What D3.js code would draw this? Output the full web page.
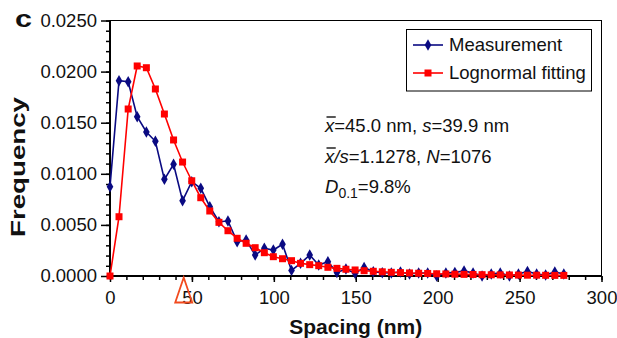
<!DOCTYPE html>
<html>
<head>
<meta charset="utf-8">
<script src="https://cdn.jsdelivr.net/npm/d3@7"></script>
<style>
  html, body { margin: 0; padding: 0; background: #fff; }
  svg { display: block; font-family: "Liberation Sans", Arial, sans-serif; }
</style>
</head>
<body>
<svg id="chart" width="617" height="338"></svg>
<script>
// Spacing bins (nm)
const spacing = [0, 5.5, 11.1, 16.6, 22.2, 27.7, 33.2, 38.8, 44.3, 49.9,
  55.4, 60.9, 66.5, 72.0, 77.6, 83.1, 88.6, 94.2, 99.7, 105.3,
  110.8, 116.3, 121.9, 127.4, 133.0, 138.5, 144.0, 149.6, 155.1, 160.7,
  166.2, 171.7, 177.3, 182.8, 188.4, 193.9, 199.4, 205.0, 210.5, 216.1,
  221.6, 227.1, 232.7, 238.2, 243.8, 249.3, 254.8, 260.4, 265.9, 271.5, 277.0];

// Measured frequency
const measurement = [0.00874, 0.01911, 0.01901, 0.01559, 0.01409, 0.01318, 0.00946, 0.01093, 0.00737, 0.00923,
  0.00858, 0.00678, 0.00531, 0.00538, 0.00336, 0.00352, 0.00205, 0.00271, 0.00254, 0.00310,
  0.00055, 0.00124, 0.00205, 0.00108, 0.00140, 0.00034, 0.00068, 0.00026, 0.00083, 0.00042,
  0.00032, 0.00030, 0.00040, 0.00020, 0.00030, 0.00030, 0.00000, 0.00030, 0.00035, 0.00050,
  0.00030, 0.00000, 0.00020, 0.00030, 0.00000, 0.00020, 0.00045, 0.00020, 0.00010, 0.00040, 0.00020];

// Lognormal fit
const lognormal = [0.00000, 0.00580, 0.01634, 0.02055, 0.02038, 0.01830, 0.01585, 0.01331, 0.01115, 0.00932,
  0.00766, 0.00636, 0.00525, 0.00443, 0.00369, 0.00320, 0.00277, 0.00228, 0.00189, 0.00169,
  0.00150, 0.00124, 0.00111, 0.00101, 0.00085, 0.00075, 0.00066, 0.00059, 0.00052, 0.00046,
  0.00041, 0.00036, 0.00033, 0.00030, 0.00027, 0.00025, 0.00022, 0.00020, 0.00018, 0.00016,
  0.00015, 0.00013, 0.00012, 0.00011, 0.00010, 0.00009, 0.00008, 0.00008, 0.00007, 0.00006, 0.00006];

const xTicks = [0, 50, 100, 150, 200, 250, 300];
const yTicks = [0, 0.005, 0.010, 0.015, 0.020, 0.025];
const xMinorTicks = d3.range(0, 301, 10);
const yMinorTicks = d3.range(0, 26).map(i => i / 1000);

const meanSpacing = 45.0;
const seriesNames = ["Measurement", "Lognormal fitting"];
const blue = "#0a0a82", red = "#ff0000";
const fs = 18.5;

const svg = d3.select("#chart");
const x = d3.scaleLinear().domain([0, 300]).range([110, 601.5]);
const y = d3.scaleLinear().domain([0, 0.025]).range([276, 20.5]);

// Plot frame (top / right)
svg.append("rect")
  .attr("x", x(0)).attr("y", y(0.025))
  .attr("width", x(300) - x(0)).attr("height", y(0) - y(0.025))
  .attr("fill", "none").attr("stroke", "#000").attr("stroke-width", 1);

// Minor ticks
svg.append("g").attr("transform", `translate(${x(0)},0)`)
  .call(d3.axisLeft(y).tickValues(yMinorTicks).tickSize(4).tickFormat(""))
  .call(g => g.select(".domain").remove())
  .call(g => g.selectAll("line").attr("stroke-width", 1.5));
svg.append("g").attr("transform", `translate(0,${y(0)})`)
  .call(d3.axisBottom(x).tickValues(xMinorTicks).tickSize(4).tickFormat(""))
  .call(g => g.select(".domain").remove())
  .call(g => g.selectAll("line").attr("stroke-width", 1.5));

// Major axes
const yAxis = svg.append("g").attr("transform", `translate(${x(0)},0)`)
  .call(d3.axisLeft(y).tickValues(yTicks).tickSize(9).tickPadding(4).tickFormat(d3.format(".4f")));
const xAxis = svg.append("g").attr("transform", `translate(0,${y(0)})`)
  .call(d3.axisBottom(x).tickValues(xTicks).tickSize(6).tickPadding(8.5).tickFormat(d3.format("d")));
[yAxis, xAxis].forEach(g => {
  g.attr("font-family", null).attr("font-size", null);
  g.select(".domain").attr("stroke-width", 2).attr("d", null);
  g.selectAll("line").attr("stroke-width", 1.5);
  g.selectAll("text").attr("font-size", fs).attr("fill", "#111");
});
svg.append("line").attr("x1", x(0)).attr("x2", x(0)).attr("y1", y(0.025)).attr("y2", y(0) + 1)
  .attr("stroke", "#000").attr("stroke-width", 2);
svg.append("line").attr("x1", x(0) - 1).attr("x2", x(300)).attr("y1", y(0)).attr("y2", y(0))
  .attr("stroke", "#000").attr("stroke-width", 2);

// Series
const pts = vals => vals.map((v, i) => [spacing[i], v]);
const line = d3.line().x(d => x(d[0])).y(d => y(d[1]));
const diamond = d3.symbol().type(d3.symbolDiamond).size(38);

svg.append("path").datum(pts(measurement)).attr("d", line)
  .attr("fill", "none").attr("stroke", blue).attr("stroke-width", 1.6);
svg.append("g").selectAll("path").data(pts(measurement)).join("path")
  .attr("d", diamond).attr("transform", d => `translate(${x(d[0])},${y(d[1])})`)
  .attr("fill", blue);

svg.append("path").datum(pts(lognormal)).attr("d", line)
  .attr("fill", "none").attr("stroke", red).attr("stroke-width", 1.6);
svg.append("g").selectAll("rect").data(pts(lognormal)).join("rect")
  .attr("x", d => x(d[0]) - 3.5).attr("y", d => y(d[1]) - 3.5)
  .attr("width", 7).attr("height", 7).attr("fill", red);

// Mean marker below the axis
const mx = x(meanSpacing);
svg.append("path")
  .attr("d", `M${mx},${y(0) + 1.5} L${mx - 8.5},${y(0) + 26.5} L${mx + 8.5},${y(0) + 26.5} Z`)
  .attr("fill", "none").attr("stroke", "#f24a1e").attr("stroke-width", 1.8);

// Legend
const lg = svg.append("g");
lg.append("rect").attr("x", 406.5).attr("y", 29.5).attr("width", 185).attr("height", 61.5)
  .attr("fill", "#fff").attr("stroke", "#000").attr("stroke-width", 1);
seriesNames.forEach((name, i) => {
  const ly = 45 + i * 28;
  const col = i === 0 ? blue : red;
  lg.append("line").attr("x1", 413).attr("x2", 443).attr("y1", ly).attr("y2", ly)
    .attr("stroke", col).attr("stroke-width", 1.6);
  if (i === 0) {
    lg.append("path").attr("d", diamond).attr("transform", `translate(428,${ly})`).attr("fill", col);
  } else {
    lg.append("rect").attr("x", 424.5).attr("y", ly - 3.5).attr("width", 7).attr("height", 7).attr("fill", col);
  }
  lg.append("text").attr("x", 449).attr("y", ly + 6).attr("font-size", fs).attr("fill", "#111").text(name);
});

// Statistics annotation
const ann = svg.append("g").attr("font-size", fs).attr("fill", "#111");
const overline = (t) => {
  const e = t.node().getExtentOfChar(0);
  ann.append("line").attr("x1", e.x + 1.5).attr("x2", e.x + e.width + 1.5)
    .attr("y1", e.y + 2.5).attr("y2", e.y + 2.5).attr("stroke", "#111").attr("stroke-width", 1.4);
};
const t1 = ann.append("text").attr("x", 325).attr("y", 131.5);
t1.append("tspan").attr("font-style", "italic").text("x");
t1.append("tspan").text("=45.0 nm, ");
t1.append("tspan").attr("font-style", "italic").text("s");
t1.append("tspan").text("=39.9 nm");
overline(t1);

const t2 = ann.append("text").attr("x", 325).attr("y", 162.5);
t2.append("tspan").attr("font-style", "italic").text("x/s");
t2.append("tspan").text("=1.1278, ");
t2.append("tspan").attr("font-style", "italic").text("N");
t2.append("tspan").text("=1076");
overline(t2);

const t3 = ann.append("text").attr("x", 325).attr("y", 192.5);
t3.append("tspan").attr("font-style", "italic").text("D");
t3.append("tspan").attr("font-size", 14).attr("dy", 5).text("0.1");
t3.append("tspan").attr("dy", -5).text("=9.8%");

// Axis titles and panel letter
svg.append("text").attr("x", (x(0) + x(300)) / 2).attr("y", 333.5)
  .attr("text-anchor", "middle").attr("font-weight", "bold").attr("font-size", 21)
  .attr("fill", "#111").text("Spacing (nm)");
svg.append("text").attr("transform", "translate(25,167) rotate(-90)")
  .attr("text-anchor", "middle").attr("font-weight", "bold").attr("font-size", 20)
  .attr("textLength", 140).attr("lengthAdjust", "spacingAndGlyphs")
  .attr("fill", "#111").text("Frequency");
svg.append("text").attr("x", 15).attr("y", 27).attr("font-weight", "bold").attr("font-size", 23)
  .attr("textLength", 17).attr("lengthAdjust", "spacingAndGlyphs")
  .attr("fill", "#111").text("c");
</script>
</body>
</html>
